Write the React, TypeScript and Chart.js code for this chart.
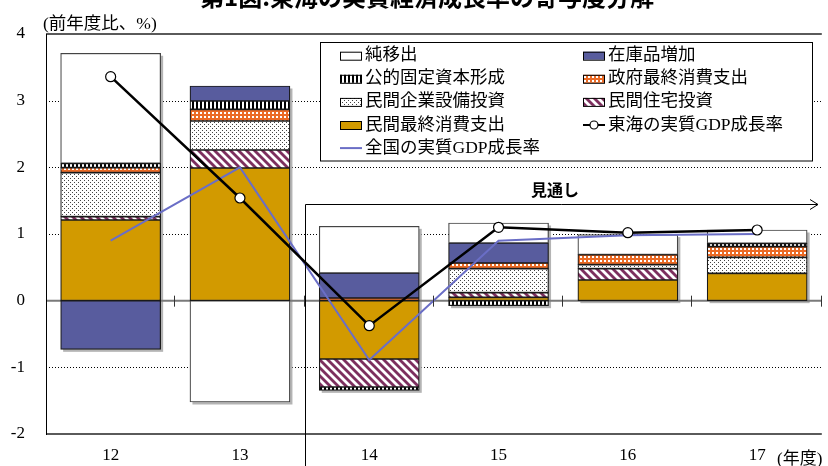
import React, { useEffect, useRef } from 'react';
import { Chart, registerables } from 'chart.js';

Chart.register(...registerables);

// 年度
const categories = ['12', '13', '14', '15', '16', '17'];

// 寄与度（%ポイント）
const privateConsumption = [1.21, 1.99, -0.875, 0.05, 0.31, 0.41];
const privateHousing = [0.05, 0.27, -0.42, 0.07, 0.17, null];
const privateCapex = [0.66, 0.435, null, 0.36, 0.06, 0.24];
const governmentConsumption = [0.075, 0.175, 0.04, 0.085, 0.15, 0.16];
const publicInvestment = [0.066, 0.125, -0.05, -0.075, null, 0.05];
const inventoryChange = [-0.73, 0.225, 0.375, 0.3, null, null];
const netExports = [1.65, -1.52, 0.7, 0.3, 0.3, 0.2];

// 実質GDP成長率（%）
const tokaiGrowth = [3.36, 1.54, -0.375, 1.1, 1.02, 1.06];
const nationalGrowth = [0.9, 2.0, -0.89, 0.9, 0.98, 1.0];

const yMin = -2;
const yMax = 4;
const dottedGridValues = [-1, 1, 2, 3];

const seriesLabels = [
  '民間最終消費支出',
  '民間住宅投資',
  '民間企業設備投資',
  '政府最終消費支出',
  '公的固定資本形成',
  '在庫品増加',
  '純移出',
  '東海の実質GDP成長率',
  '全国の実質GDP成長率',
];

const FONT = "'Liberation Serif', 'Noto Sans CJK JP', serif";
const GOTHIC = "'Noto Sans CJK JP', 'Noto Sans', sans-serif";
const GOLD = '#D29A00';
const INDIGO = '#585C9E';
const ORANGE = '#EB6A25';
const PLUM = '#7D2F5E';
const LINE_BLUE = '#6A6EC6';

function makePattern(w: number, h: number, draw: (g: CanvasRenderingContext2D) => void) {
  const c = document.createElement('canvas');
  c.width = w;
  c.height = h;
  const g = c.getContext('2d')!;
  draw(g);
  return g.createPattern(c, 'repeat')!;
}

function buildPatterns() {
  const verticalStripes = makePattern(4, 4, (g) => {
    g.fillStyle = '#ffffff';
    g.fillRect(0, 0, 4, 4);
    g.fillStyle = '#000000';
    g.fillRect(0, 0, 2, 4);
  });
  const orangeCheck = makePattern(4, 4, (g) => {
    g.fillStyle = ORANGE;
    g.fillRect(0, 0, 4, 4);
    g.fillStyle = '#ffffff';
    g.fillRect(0, 0, 2, 2);
  });
  const dots = makePattern(4, 4, (g) => {
    g.fillStyle = '#ffffff';
    g.fillRect(0, 0, 4, 4);
    g.fillStyle = '#444444';
    g.fillRect(0, 0, 1, 1);
    g.fillRect(2, 2, 1, 1);
  });
  const diagonal = makePattern(8, 8, (g) => {
    g.fillStyle = '#ffffff';
    g.fillRect(0, 0, 8, 8);
    g.strokeStyle = PLUM;
    g.lineWidth = 2.8;
    for (const k of [-8, 0, 8]) {
      g.beginPath();
      g.moveTo(k - 1, -1);
      g.lineTo(k + 9, 9);
      g.stroke();
    }
  });
  return { verticalStripes, orangeCheck, dots, diagonal };
}

const BAR_COUNT = 7;

const framePlugin = {
  id: 'frame',
  beforeDatasetsDraw(chart: any) {
    const { ctx, chartArea, scales } = chart;
    const y = scales.y;
    const x = scales.x;
    ctx.save();

    // dotted grid lines
    ctx.strokeStyle = '#000';
    ctx.lineWidth = 1;
    ctx.setLineDash([1, 2]);
    for (const v of dottedGridValues) {
      const py = Math.round(y.getPixelForValue(v)) + 0.5;
      ctx.beginPath();
      ctx.moveTo(chartArea.left, py);
      ctx.lineTo(chartArea.right, py);
      ctx.stroke();
    }
    ctx.setLineDash([]);

    // bar shadows
    ctx.fillStyle = '#b4b4b4';
    const half = 50;
    categories.forEach((_, i) => {
      let pos = 0;
      let neg = 0;
      for (let d = 0; d < BAR_COUNT; d++) {
        const v = chart.data.datasets[d].data[i];
        if (v == null) continue;
        if (v > 0) pos += v;
        else neg += v;
      }
      const cx = x.getPixelForValue(i);
      const top = y.getPixelForValue(pos);
      const bottom = y.getPixelForValue(neg);
      ctx.fillRect(cx - half + 2.5, top + 2.5, half * 2, bottom - top);
    });

    // zero line
    const zy = y.getPixelForValue(0);
    ctx.strokeStyle = '#7a7a7a';
    ctx.lineWidth = 2;
    ctx.beginPath();
    ctx.moveTo(chartArea.left, zy);
    ctx.lineTo(chartArea.right, zy);
    ctx.stroke();

    // top and bottom frame lines
    ctx.strokeStyle = '#5a5a5a';
    ctx.lineWidth = 2;
    for (const py of [chartArea.top, chartArea.bottom]) {
      ctx.beginPath();
      ctx.moveTo(chartArea.left, py);
      ctx.lineTo(chartArea.right, py);
      ctx.stroke();
    }

    // left axis
    ctx.strokeStyle = '#000';
    ctx.lineWidth = 1;
    ctx.beginPath();
    ctx.moveTo(chartArea.left + 0.5, chartArea.top);
    ctx.lineTo(chartArea.left + 0.5, chartArea.bottom + 1);
    ctx.stroke();
    ctx.restore();
  },
  afterDatasetsDraw(chart: any) {
    const { ctx, chartArea, scales } = chart;
    const y = scales.y;
    const zy = y.getPixelForValue(0);
    const step = (chartArea.right - chartArea.left) / categories.length;
    ctx.save();

    // category boundary ticks on the zero line
    ctx.strokeStyle = '#333';
    ctx.lineWidth = 1;
    for (let k = 1; k <= categories.length; k++) {
      const px = Math.round(chartArea.left + step * k) - 0.5;
      ctx.beginPath();
      ctx.moveTo(px, zy - 5);
      ctx.lineTo(px, zy + 6);
      ctx.stroke();
    }

    // forecast marker
    const fx = Math.round(chartArea.left + step * 2) + 0.5;
    const ay = 204.5;
    ctx.strokeStyle = '#000';
    ctx.lineWidth = 1;
    ctx.beginPath();
    ctx.moveTo(fx, chart.height);
    ctx.lineTo(fx, ay);
    ctx.lineTo(818, ay);
    ctx.stroke();
    ctx.beginPath();
    ctx.moveTo(810, ay - 5);
    ctx.lineTo(818, ay);
    ctx.lineTo(810, ay + 5);
    ctx.stroke();
    ctx.fillStyle = '#000';
    ctx.font = `bold 16px ${GOTHIC}`;
    ctx.textBaseline = 'middle';
    ctx.textAlign = 'left';
    ctx.fillText('見通し', 531, 190);

    // titles
    ctx.font = `bold 24px ${GOTHIC}`;
    ctx.textAlign = 'center';
    ctx.textBaseline = 'alphabetic';
    ctx.fillText('第1図.東海の実質経済成長率の寄与度分解', 427, 6);

    ctx.font = `17.5px ${FONT}`;
    ctx.textAlign = 'left';
    ctx.textBaseline = 'middle';
    ctx.fillText('(前年度比、%)', 43, 24);
    ctx.font = `17px ${FONT}`;
    ctx.fillText('(年度)', 777, 460);

    // legend
    const lx = 320.5;
    const ly = 42.5;
    const lw = 492;
    const lh = 118.5;
    ctx.fillStyle = '#fff';
    ctx.fillRect(lx, ly, lw, lh);
    ctx.strokeStyle = '#000';
    ctx.lineWidth = 1;
    ctx.strokeRect(lx, ly, lw, lh);

    const order = [6, 5, 4, 3, 2, 1, 0, 7, 8];
    const colX = [340, 583];
    order.forEach((di, n) => {
      const ds = chart.data.datasets[di];
      const sx = colX[n % 2];
      const sy = 55.7 + Math.floor(n / 2) * 23.1;
      if (ds.type === 'line') {
        ctx.strokeStyle = ds.borderColor;
        ctx.lineWidth = 2;
        ctx.beginPath();
        ctx.moveTo(sx, sy);
        ctx.lineTo(sx + 22, sy);
        ctx.stroke();
        if (ds.pointRadius > 0) {
          ctx.fillStyle = '#fff';
          ctx.lineWidth = 1.2;
          ctx.beginPath();
          ctx.arc(sx + 11, sy, 4, 0, Math.PI * 2);
          ctx.fill();
          ctx.stroke();
        }
      } else {
        ctx.fillStyle = ds.backgroundColor;
        ctx.fillRect(sx, sy - 4, 22, 8);
        ctx.strokeStyle = '#000';
        ctx.lineWidth = 1;
        ctx.strokeRect(sx + 0.5, sy - 4 + 0.5, 21, 8);
      }
      ctx.fillStyle = '#000';
      ctx.font = `17.5px ${FONT}`;
      ctx.textAlign = 'left';
      ctx.textBaseline = 'middle';
      ctx.fillText(ds.label, sx + 25, sy);
    });
    ctx.restore();
  },
};

export default function App() {
  const canvasRef = useRef<HTMLCanvasElement | null>(null);

  useEffect(() => {
    const canvas = canvasRef.current;
    if (!canvas) return;
    const p = buildPatterns();

    const barBase = {
      type: 'bar' as const,
      borderColor: '#1a1a1a',
      borderWidth: 1.2,
      borderSkipped: false,
      barThickness: 100,
      order: 2,
    };

    const chart = new Chart(canvas, {
      type: 'bar',
      data: {
        labels: categories,
        datasets: [
          { ...barBase, label: seriesLabels[0], data: privateConsumption, backgroundColor: GOLD },
          { ...barBase, label: seriesLabels[1], data: privateHousing, backgroundColor: p.diagonal },
          { ...barBase, label: seriesLabels[2], data: privateCapex, backgroundColor: p.dots },
          { ...barBase, label: seriesLabels[3], data: governmentConsumption, backgroundColor: p.orangeCheck },
          { ...barBase, label: seriesLabels[4], data: publicInvestment, backgroundColor: p.verticalStripes },
          { ...barBase, label: seriesLabels[5], data: inventoryChange, backgroundColor: INDIGO },
          { ...barBase, label: seriesLabels[6], data: netExports, backgroundColor: '#ffffff', borderColor: '#444' },
          {
            type: 'line',
            label: seriesLabels[7],
            data: tokaiGrowth,
            stack: 'tokai',
            borderColor: '#000',
            borderWidth: 2.5,
            pointRadius: 5,
            pointBackgroundColor: '#fff',
            pointBorderColor: '#000',
            pointBorderWidth: 1.2,
            tension: 0,
            order: 0,
          },
          {
            type: 'line',
            label: seriesLabels[8],
            data: nationalGrowth,
            stack: 'national',
            borderColor: LINE_BLUE,
            borderWidth: 2,
            pointRadius: 0,
            tension: 0,
            order: 1,
          },
        ] as any,
      },
      options: {
        responsive: false,
        animation: false,
        layout: { padding: { top: 34, left: 0, right: 0, bottom: 0 } },
        plugins: {
          legend: { display: false },
          tooltip: { enabled: false },
          title: { display: false },
        },
        scales: {
          x: {
            stacked: true,
            grid: { display: false, drawTicks: false },
            border: { display: false },
            ticks: { color: '#000', font: { family: FONT, size: 17 }, padding: 11 },
            afterFit: (s: any) => {
              s.height = 32;
            },
          },
          y: {
            stacked: true,
            min: yMin,
            max: yMax,
            grid: { display: false, drawTicks: false },
            border: { display: false },
            ticks: { stepSize: 1, color: '#000', font: { family: FONT, size: 17 }, padding: 21 },
            afterFit: (s: any) => {
              s.width = 46;
            },
          },
        },
      },
      plugins: [framePlugin],
    });

    return () => chart.destroy();
  }, []);

  return (
    <div style={{ position: 'fixed', left: 0, top: 0, width: 828, height: 466, background: '#fff' }}>
      <canvas ref={canvasRef} width={828} height={466} style={{ display: 'block' }} />
    </div>
  );
}
